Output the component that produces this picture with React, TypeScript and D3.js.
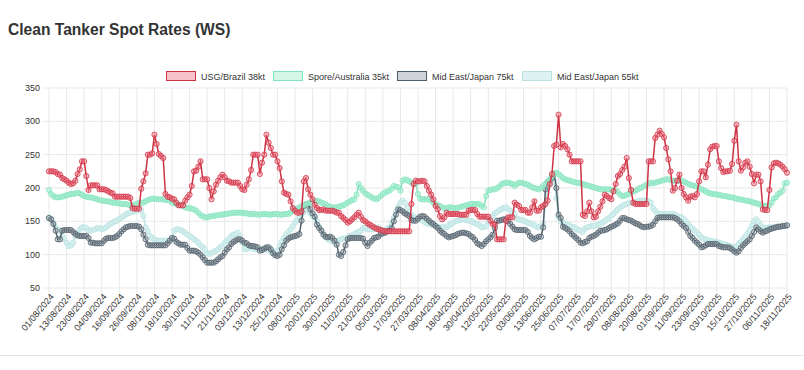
import React from "react";
import * as d3 from "d3";

// trading days shown on the category axis (weekdays, two holidays missing)
const skippedDays = ["26/12/2024", "01/01/2025"];
const fmt = d3.timeFormat("%d/%m/%Y");
const dates: string[] = d3.timeDay
  .range(new Date(2024, 7, 1), new Date(2025, 10, 19))
  .filter((d) => d.getDay() !== 0 && d.getDay() !== 6)
  .map((d) => fmt(d))
  .filter((s) => !skippedDays.includes(s));

const tickLabels = [
  "01/08/2024", "13/08/2024", "23/08/2024", "04/09/2024", "16/09/2024", "26/09/2024",
  "08/10/2024", "18/10/2024", "30/10/2024", "11/11/2024", "21/11/2024", "03/12/2024",
  "13/12/2024", "25/12/2024", "08/01/2025", "20/01/2025", "30/01/2025", "11/02/2025",
  "21/02/2025", "05/03/2025", "17/03/2025", "27/03/2025", "08/04/2025", "18/04/2025",
  "30/04/2025", "12/05/2025", "22/05/2025", "03/06/2025", "13/06/2025", "25/06/2025",
  "07/07/2025", "17/07/2025", "29/07/2025", "08/08/2025", "20/08/2025", "01/09/2025",
  "11/09/2025", "23/09/2025", "03/10/2025", "15/10/2025", "27/10/2025", "06/11/2025",
  "18/11/2025",
];

const yTicks = [50, 100, 150, 200, 250, 300, 350];

const usgBrazil = [
  225, 225, 225, 224, 221, 220, 215, 213, 211, 208,
  206, 207, 211, 221, 228, 240, 240, 218, 197, 204,
  204, 204, 204, 198, 198, 198, 197, 195, 193, 192,
  187, 187, 187, 187, 187, 187, 187, 185, 170, 169,
  169, 169, 199, 210, 222, 250, 250, 252, 280, 266,
  251, 248, 245, 191, 187, 186, 184, 183, 178, 174,
  174, 174, 181, 186, 190, 203, 225, 226, 232, 240,
  213, 213, 213, 200, 183, 195, 205, 211, 216, 220,
  216, 211, 210, 208, 208, 208, 208, 203, 198, 197,
  205, 213, 227, 250, 250, 250, 221, 238, 250, 280,
  268, 260, 250, 250, 240, 230, 210, 193, 191, 190,
  180, 170, 166, 163, 163, 165, 210, 215, 198, 190,
  183, 175, 170, 167, 167, 168, 166, 166, 166, 166,
  165, 163, 163, 158, 155, 152, 148, 150, 153, 156,
  160, 163, 157, 152, 150, 147, 145, 143, 141, 139,
  138, 137, 136, 135, 135, 135, 135, 135, 135, 135,
  135, 135, 135, 135, 135, 176, 206, 211, 210, 210,
  211, 210, 203, 196, 190, 183, 173, 168, 158, 153,
  156, 163, 161, 161, 161, 161, 161, 160, 160, 160,
  160, 166, 167, 167, 167, 161, 157, 157, 157, 157,
  157, 151, 146, 145, 123, 123, 123, 123, 151, 156,
  156, 156, 178, 175, 173, 167, 167, 167, 163, 163,
  171, 180, 166, 166, 171, 173, 176, 181, 206, 221,
  263, 265, 310, 261, 266, 263, 258, 250, 240, 240,
  240, 240, 240, 160, 158, 165, 178, 165, 156, 157,
  165, 172, 180, 190, 188, 185, 183, 195, 206, 218,
  221, 227, 232, 245, 215, 197, 178, 176, 176, 176,
  176, 176, 176, 240, 240, 240, 275, 280, 286, 281,
  276, 260, 243, 225, 196, 200, 211, 220, 200, 191,
  186, 181, 187, 188, 186, 191, 210, 225, 225, 216,
  235, 258, 262, 263, 263, 240, 230, 224, 225, 225,
  226, 236, 271, 295, 240, 226, 231, 238, 240, 232,
  221, 207, 220, 220, 210, 168, 167, 167, 197, 231,
  237, 238, 237, 235, 232, 228, 223,
];

const sporeAustralia = [
  197, 191, 188, 186, 186, 186, 187, 188, 189, 190,
  191, 191, 192, 193, 192, 190, 188, 187, 186, 186,
  185, 184, 183, 182, 181, 181, 180, 180, 179, 178,
  178, 177, 177, 176, 176, 176, 175, 174, 173, 175,
  176, 178, 178, 178, 180, 182, 183, 184, 184, 183,
  183, 183, 183, 182, 182, 181, 178, 177, 176, 175,
  174, 173, 171, 170, 170, 169, 168, 166, 163, 159,
  158, 156, 156, 157, 158, 158, 159, 159, 160, 160,
  161, 161, 162, 162, 163, 163, 163, 163, 163, 162,
  162, 161, 161, 161, 161, 160, 160, 161, 161, 161,
  160, 160, 161, 161, 161, 160, 160, 161, 161, 161,
  163, 166, 168, 169, 171, 173, 174, 176, 177, 178,
  178, 180, 181, 180, 178, 177, 175, 173, 172, 171,
  171, 171, 172, 173, 174, 176, 178, 180, 182, 183,
  190, 206, 200, 196, 192, 190, 188, 186, 184, 183,
  185, 188, 191, 193, 195, 196, 199, 203, 202, 201,
  196, 211, 213, 212, 210, 208, 207, 206, 191, 184,
  183, 183, 183, 183, 181, 178, 176, 174, 173, 171,
  170, 169, 171, 171, 170, 170, 170, 171, 172, 173,
  174, 175, 176, 176, 176, 176, 176, 173, 171, 188,
  196, 197, 198, 198, 200, 202, 206, 207, 208, 208,
  207, 206, 203, 206, 208, 208, 207, 206, 205, 203,
  201, 200, 199, 198, 200, 203, 206, 210, 213, 218,
  222, 223, 221, 218, 215, 213, 212, 211, 210, 209,
  208, 208, 207, 206, 205, 204, 203, 202, 201, 200,
  199, 198, 198, 198, 198, 198, 197, 197, 196, 194,
  190, 188, 188, 190, 191, 193, 195, 196, 198, 200,
  201, 203, 205, 206, 208, 207, 208, 209, 210, 211,
  212, 213, 213, 212, 211, 211, 211, 211, 211, 210,
  208, 206, 205, 204, 203, 202, 200, 198, 197, 195,
  193, 192, 191, 191, 190, 190, 189, 188, 188, 187,
  186, 186, 185, 184, 183, 183, 182, 181, 181, 180,
  179, 178, 177, 176, 175, 174, 173, 173, 174, 178,
  184, 186, 191, 193, 196, 207, 208,
];

const meJapan75 = [
  155, 153, 146, 136, 123, 123, 136, 137, 137, 137,
  137, 134, 131, 129, 128, 128, 128, 128, 125, 118,
  118, 117, 117, 117, 117, 121, 124, 125, 125, 125,
  126, 128, 131, 135, 138, 141, 142, 143, 143, 143,
  143, 142, 138, 130, 123, 115, 114, 114, 114, 114,
  114, 114, 114, 114, 117, 121, 125, 124, 119, 117,
  115, 115, 115, 110, 106, 106, 106, 105, 103, 100,
  96, 92, 88, 88, 88, 88, 90, 93, 96, 98,
  103, 108, 111, 116, 119, 121, 123, 123, 121, 118,
  117, 114, 113, 113, 112, 111, 106, 107, 109, 111,
  111, 108, 102, 99, 98, 100, 108, 114, 121, 124,
  126, 127, 128, 129, 131, 151, 173, 175, 176, 168,
  162, 157, 145, 140, 136, 130, 127, 126, 127, 125,
  121, 115, 100, 98, 104, 114, 123, 125, 125, 125,
  125, 125, 125, 124, 118, 113, 118, 121, 125, 126,
  127, 131, 132, 133, 135, 136, 140, 150, 160, 168,
  167, 165, 162, 160, 158, 152, 151, 151, 154, 157,
  158, 157, 154, 151, 148, 146, 143, 140, 136, 133,
  131, 128, 126, 127, 128, 129, 131, 132, 133, 133,
  132, 131, 128, 126, 122, 117, 115, 113, 116, 120,
  123, 126, 130, 140, 151, 151, 152, 153, 153, 150,
  146, 142, 138, 137, 137, 137, 137, 137, 134, 128,
  125, 123, 125, 127, 127, 141, 198, 208, 211, 215,
  221, 200, 160, 155, 142, 140, 138, 135, 131, 128,
  125, 122, 118, 117, 119, 120, 125, 127, 128, 130,
  133, 136, 136, 137, 138, 140, 142, 143, 145, 147,
  151, 155, 155, 153, 152, 151, 149, 147, 146, 144,
  142, 141, 142, 142, 143, 145, 150, 155, 156, 156,
  156, 156, 156, 156, 156, 155, 153, 150, 146, 143,
  140, 134, 128, 125, 121, 118, 115, 111, 112, 114,
  116, 116, 116, 116, 116, 113, 112, 111, 111, 111,
  110, 108, 105, 103, 105, 110, 114, 117, 120, 123,
  128, 134, 141, 138, 135, 133, 135, 136, 138, 139,
  140, 141, 142, 142, 143, 143, 144,
];

const meJapan55 = [
  156, 153, 148, 141, 138, 135, 128, 123, 118, 113,
  114, 118, 128, 133, 138, 141, 141, 140, 136, 136,
  137, 138, 140, 140, 138, 139, 141, 144, 146, 148,
  150, 151, 154, 156, 158, 160, 162, 163, 164, 165,
  166, 170, 166, 158, 141, 135, 128, 125, 123, 121,
  121, 121, 121, 121, 121, 121, 126, 136, 138, 138,
  137, 135, 133, 130, 128, 126, 123, 121, 118, 114,
  111, 108, 102, 101, 103, 104, 106, 108, 111, 113,
  118, 121, 124, 128, 130, 131, 133, 128, 118, 108,
  108, 110, 111, 109, 108, 108, 108, 108, 108, 108,
  107, 106, 103, 104, 106, 113, 120, 125, 131, 134,
  138, 143, 148, 152, 156, 160, 164, 168, 166, 162,
  158, 156, 150, 143, 136, 130, 126, 123, 122, 120,
  118, 120, 122, 123, 124, 125, 126, 128, 129, 131,
  133, 134, 136, 140, 140, 138, 138, 138, 138, 140,
  141, 138, 136, 137, 139, 141, 148, 156, 165, 172,
  178, 181, 178, 170, 163, 160, 157, 156, 154, 152,
  151, 149, 147, 146, 145, 144, 143, 142, 141, 141,
  141, 141, 144, 146, 148, 150, 151, 152, 153, 153,
  152, 151, 151, 149, 147, 146, 144, 141, 141, 143,
  150, 155, 158, 162, 164, 167, 168, 170, 171, 169,
  166, 164, 161, 154, 153, 152, 151, 150, 148, 147,
  146, 144, 142, 141, 143, 146, 175, 200, 205, 208,
  210, 185, 156, 150, 148, 146, 145, 144, 142, 141,
  139, 137, 136, 134, 139, 141, 142, 143, 143, 144,
  145, 146, 148, 150, 153, 155, 158, 161, 165, 168,
  171, 173, 175, 176, 177, 178, 178, 179, 180, 181,
  181, 181, 181, 180, 178, 170, 166, 162, 161, 161,
  161, 161, 161, 161, 161, 160, 158, 157, 156, 153,
  150, 146, 142, 139, 136, 133, 130, 126, 124, 123,
  122, 121, 120, 120, 119, 118, 117, 116, 115, 114,
  113, 112, 111, 112, 116, 119, 123, 127, 132, 137,
  144, 150, 153, 149, 144, 141, 140, 140, 141, 141,
  141, 142, 142, 142, 143, 143, 144,
];

const seriesNames = ["USG/Brazil 38kt", "Spore/Australia 35kt", "Mid East/Japan 75kt", "Mid East/Japan 55kt"];
const seriesValues = [usgBrazil, sporeAustralia, meJapan75, meJapan55];
const lineColors = ["#cf3344", "#84e3bf", "#4e5d68", "#b9e2e1"];
const fillColors = ["rgba(240,120,140,0.45)", "rgba(170,240,210,0.5)", "rgba(150,160,168,0.45)", "rgba(212,240,240,0.8)"];

const W = 804;
const H = 370;
const left = 49;
const right = 787;
const top = 88;
const bottom = 288;

export default function App() {
  const x = d3.scalePoint<string>().domain(dates).range([left, right]);
  const y = d3.scaleLinear().domain([50, 350]).range([bottom, top]);
  const line = d3
    .line<number>()
    .x((_, i) => x(dates[i]) as number)
    .y((d) => y(d));

  // legend layout
  const legendX = [166, 273, 397, 522];

  const font = "'Liberation Sans', Arial, sans-serif";

  return (
    <svg width={W} height={H} style={{ position: "absolute", left: 0, top: 0, background: "#fff" }} fontFamily={font}>
      <text x={8} y={35} fontSize={15.6} fontWeight="bold" fill="#333">
        Clean Tanker Spot Rates (WS)
      </text>

      {/* legend */}
      {seriesNames.map((name, k) => (
        <g key={name} transform={`translate(${legendX[k]},71)`}>
          <rect x={0.5} y={0.5} width={29} height={9} fill={fillColors[k]} stroke={lineColors[k]} strokeWidth={1} />
          <text x={35} y={8.5} fontSize={9} fill="#333">
            {name}
          </text>
        </g>
      ))}

      {/* grid */}
      {yTicks.map((t) => (
        <g key={t}>
          <line x1={left - 5} x2={right} y1={y(t)} y2={y(t)} stroke="#e8e8e8" strokeWidth={1} />
          <text x={left - 9} y={y(t)} dy="0.35em" textAnchor="end" fontSize={9} fill="#333">
            {t}
          </text>
        </g>
      ))}
      {tickLabels.map((t) => {
        const xp = x(t) as number;
        return (
          <g key={t}>
            <line x1={xp} x2={xp} y1={top} y2={bottom + 5} stroke="#e8e8e8" strokeWidth={1} />
            <text
              transform={`translate(${xp + 3},${bottom + 7}) rotate(-50)`}
              textAnchor="end"
              dy="0.35em"
              fontSize={9}
              fill="#333"
            >
              {t}
            </text>
          </g>
        );
      })}

      {/* series, first one on top */}
      {[3, 2, 1, 0].map((k) => (
        <g key={k}>
          <path d={line(seriesValues[k]) ?? ""} fill="none" stroke={lineColors[k]} strokeWidth={1.5} />
          {seriesValues[k].map((v, i) => (
            <circle
              key={i}
              cx={x(dates[i]) as number}
              cy={y(v)}
              r={2.6}
              fill={fillColors[k]}
              stroke={lineColors[k]}
              strokeWidth={0.8}
            />
          ))}
        </g>
      ))}

      <line x1={0} x2={W} y1={355.5} y2={355.5} stroke="#e4e4e4" strokeWidth={1} />
    </svg>
  );
}
